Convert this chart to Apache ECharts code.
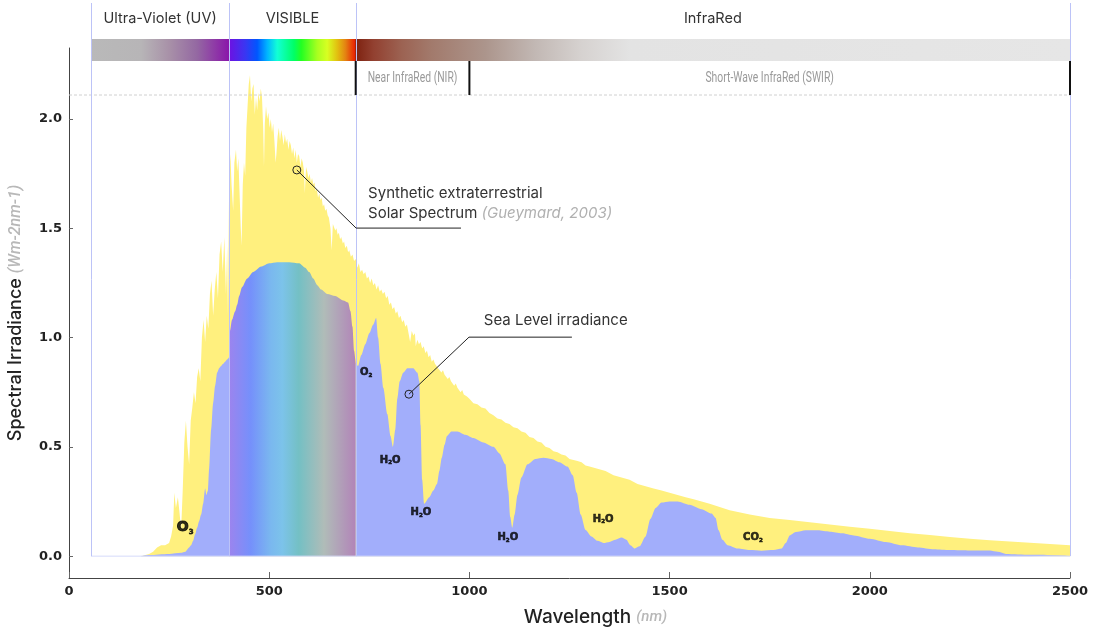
<!DOCTYPE html>
<html>
<head>
<meta charset="utf-8">
<script src="https://cdn.jsdelivr.net/npm/echarts@6/dist/echarts.min.js"></script>
<style>
  html, body { margin: 0; padding: 0; background: #ffffff; }
  #chart { width: 1095px; height: 633px; }
</style>
</head>
<body>
<div id="chart"></div>
<script>
// ---- Data -------------------------------------------------------------
// Synthetic extraterrestrial solar spectrum [wavelength nm, W m-2 nm-1]
const extraterrestrial = [
  [180,0],[200,0.01],[210,0.02],[220,0.04],[230,0.05],[240,0.05],[250,0.06],[255,0.09],[260,0.14],
  [263,0.29],[267,0.22],[272,0.27],[276,0.2],[280,0.12],[284,0.3],[288,0.52],[292,0.62],[296,0.5],
  [300,0.42],[304,0.62],[308,0.68],[312,0.75],[316,0.7],[320,0.82],[324,0.86],[328,0.8],[332,1.0],
  [336,1.08],[340,0.98],[344,1.1],[348,1.04],[352,1.2],[356,1.26],[360,1.1],[364,1.22],[368,1.3],
  [372,1.18],[376,1.38],[380,1.44],[384,1.3],[388,1.46],[392,1.2],[395,1.42],[397,1.1],
  [400,1.72],[403,1.84],[406,1.7],[410,1.58],[413,1.8],[417,1.86],[420,1.76],[423,1.82],[426,1.66],
  [429,1.5],[431,1.42],[434,1.7],[437,1.8],[440,1.74],[443,1.96],[446,2.06],[449,2.16],[452,2.2],
  [455,2.08],[458,2.14],[461,2.16],[464,2.02],[467,2.1],[470,2.04],[473,2.12],[476,2.08],[479,2.14],
  [482,2.1],[485,1.96],[487,1.78],[489,1.98],[492,2.06],[495,2.0],[498,2.03],[501,1.96],[504,2.0],
  [507,1.94],[510,1.98],[513,1.9],[516,1.8],[518,1.84],[521,1.92],[524,1.96],[527,1.9],[530,1.95],
  [533,1.92],[536,1.88],[539,1.93],[542,1.89],[545,1.91],[548,1.86],[551,1.9],[554,1.88],[557,1.84],
  [560,1.87],[563,1.82],[566,1.86],[569,1.8],[572,1.84],[575,1.83],[578,1.78],[581,1.82],[584,1.8],
  [587,1.76],[589,1.66],[592,1.78],[595,1.76],[598,1.73],[601,1.75],[604,1.71],[607,1.73],[610,1.7],
  [613,1.71],[616,1.67],[619,1.68],[622,1.64],[625,1.66],[628,1.63],[631,1.64],[634,1.6],[637,1.61],
  [640,1.58],[643,1.59],[646,1.56],[649,1.55],[653,1.5],[656,1.4],[659,1.52],[662,1.52],[665,1.49],
  [668,1.5],[671,1.47],[674,1.48],[677,1.45],[680,1.46],[684,1.43],[687,1.44],[690,1.41],[694,1.42],
  [697,1.39],[700,1.4],[704,1.37],[708,1.38],[712,1.35],[716,1.36],[720,1.32],[724,1.34],[728,1.3],
  [732,1.31],[736,1.29],[740,1.3],[744,1.27],[748,1.28],[752,1.25],[756,1.27],[760,1.24],[764,1.25],
  [768,1.22],[772,1.24],[776,1.21],[780,1.22],[784,1.2],[788,1.21],[792,1.18],[796,1.19],[800,1.15],
  [804,1.16],[808,1.13],[812,1.14],[816,1.11],[820,1.12],[824,1.09],[828,1.1],[832,1.07],[836,1.08],
  [840,1.05],[844,1.06],[848,1.02],[852,0.98],[856,1.03],[860,1.01],[864,1.02],[866,0.96],[870,0.99],
  [874,0.97],[878,0.98],[882,0.95],[886,0.96],[890,0.93],[894,0.94],[898,0.91],[902,0.92],[906,0.89],
  [910,0.9],[914,0.88],[918,0.88],[922,0.86],[926,0.86],[930,0.84],[934,0.85],[938,0.83],[942,0.83],
  [946,0.81],[950,0.82],[954,0.8],[958,0.8],[962,0.78],[966,0.79],[970,0.77],[974,0.77],[978,0.75],
  [982,0.76],[986,0.74],[990,0.74],[994,0.73],[998,0.73],[1000,0.72],[1010,0.7],[1020,0.695],
  [1030,0.68],[1040,0.675],[1050,0.655],[1060,0.645],[1070,0.63],[1080,0.625],[1090,0.61],[1100,0.605],
  [1110,0.59],[1120,0.585],[1130,0.57],[1140,0.565],[1150,0.545],[1160,0.54],[1170,0.525],[1180,0.52],
  [1190,0.5],[1200,0.495],[1210,0.48],[1220,0.475],[1230,0.465],[1240,0.46],[1250,0.445],[1260,0.44],
  [1270,0.435],[1280,0.43],[1290,0.415],[1300,0.41],[1320,0.4],[1340,0.39],[1360,0.37],[1380,0.36],
  [1400,0.35],[1420,0.33],[1440,0.32],[1460,0.31],[1480,0.3],[1500,0.29],[1520,0.28],[1540,0.27],
  [1560,0.26],[1580,0.25],[1600,0.24],[1650,0.21],[1700,0.19],[1750,0.175],[1800,0.165],[1850,0.155],
  [1900,0.145],[1950,0.135],[2000,0.125],[2050,0.115],[2100,0.105],[2150,0.097],[2200,0.088],
  [2250,0.08],[2300,0.073],[2350,0.067],[2400,0.061],[2450,0.055],[2500,0.05]
];

// Sea level irradiance, split into UV / visible / infrared parts
const seaLevelUV = [
  [180,0],[200,0.005],[250,0.01],[280,0.015],[290,0.02],[300,0.04],[305,0.05],[310,0.07],[315,0.1],
  [320,0.13],[325,0.16],[330,0.19],[335,0.24],[340,0.31],[343,0.28],[347,0.3],[350,0.4],[355,0.58],
  [360,0.7],[365,0.78],[370,0.84],[375,0.86],[380,0.87],[385,0.88],[390,0.89],[395,0.9],[400,0.91]
];
const seaLevelVisible = [
  [400,0.91],[402,1.03],[407,1.08],[415,1.12],[420,1.15],[425,1.19],[432,1.23],[445,1.27],[460,1.3],
  [480,1.325],[500,1.34],[520,1.345],[550,1.345],[575,1.34],[590,1.32],[600,1.3],[610,1.27],[620,1.24],
  [630,1.22],[645,1.2],[665,1.19],[685,1.17],[697,1.16],[703,1.12],[708,1.05],[712,0.94],[716,0.88]
];
const seaLevelIR = [
  [716,0.88],[722,0.87],[730,0.92],[740,0.97],[750,1.02],[760,1.06],[767,1.09],[772,1.0],[778,0.88],
  [785,0.77],[795,0.65],[803,0.55],[809,0.5],[815,0.58],[820,0.72],[826,0.8],[835,0.84],[845,0.86],
  [860,0.86],[870,0.84],[875,0.8],[878,0.6],[882,0.35],[887,0.24],[900,0.27],[910,0.3],[919,0.33],
  [925,0.39],[931,0.45],[938,0.51],[944,0.55],[955,0.57],[970,0.57],[990,0.555],[1010,0.54],[1035,0.52],
  [1060,0.5],[1075,0.47],[1090,0.42],[1097,0.3],[1102,0.18],[1107,0.13],[1113,0.19],[1120,0.28],
  [1130,0.36],[1145,0.42],[1165,0.445],[1185,0.45],[1205,0.445],[1225,0.43],[1245,0.41],[1258,0.37],
  [1268,0.29],[1278,0.19],[1290,0.12],[1305,0.09],[1320,0.07],[1335,0.06],[1350,0.065],[1365,0.075],
  [1380,0.085],[1392,0.075],[1402,0.05],[1413,0.035],[1425,0.045],[1440,0.09],[1452,0.17],[1465,0.22],
  [1480,0.245],[1500,0.25],[1520,0.25],[1550,0.235],[1580,0.215],[1605,0.195],[1615,0.175],[1622,0.12],
  [1632,0.075],[1645,0.05],[1670,0.035],[1700,0.028],[1730,0.025],[1760,0.028],[1780,0.035],[1790,0.06],
  [1800,0.095],[1815,0.11],[1840,0.118],[1870,0.118],[1900,0.112],[1930,0.105],[1960,0.095],[2000,0.08],
  [2040,0.065],[2080,0.05],[2120,0.04],[2160,0.032],[2200,0.028],[2250,0.026],[2300,0.026],[2320,0.02],
  [2340,0.01],[2400,0.006],[2500,0.004]
];

// Absorption band labels
const moleculeNames = ['O3', 'O2', 'H2O', 'H2O', 'H2O', 'H2O', 'CO2'];
const moleculeAt = [[290,0.13],[742,0.84],[802,0.44],[879,0.2],[1096,0.087],[1334,0.17],[1708,0.087]];

// Spectral regions
const regionEdges = [55, 400, 716, 2500];
const regionNames = ['Ultra-Violet (UV)', 'VISIBLE', 'InfraRed'];
const subRegionEdges = [716, 1000, 2500];
const subRegionNames = ['Near InfraRed (NIR)', 'Short-Wave InfraRed (SWIR)'];

const yTicks = [0, 0.5, 1.0, 1.5, 2.0];

// ---- Styling ----------------------------------------------------------
const YELLOW = '#fff07e';
const BLUE = '#a2aefb';
const GUIDE = '#bcc3f7';
const TXT = 'Inter, Roboto, "Noto Sans", sans-serif';
const HEAVY = '"DejaVu Sans", sans-serif';

// colour of the spectrum strip along wavelength
const bandStops = [
  [55,'#b9b9b9'],[180,'#b7b5b7'],[250,'#a891a8'],[320,'#9468a2'],[399,'#8a16aa'],[400.5,'#6c12e2'],
  [440,'#3a36f2'],[470,'#0056ff'],[495,'#00b4ff'],[520,'#12ffd6'],[562,'#00ff66'],[580,'#22ff22'],
  [620,'#a8ff20'],[645,'#d8ff22'],[670,'#e2c010'],[690,'#e48412'],[714,'#e82204'],[716.5,'#7e2210'],
  [760,'#924030'],[830,'#9c6252'],[905,'#a27a6c'],[1040,'#ac958c'],[1165,'#c2b8b4'],[1280,'#d6d2d0'],
  [1400,'#e3e3e3'],[2500,'#e6e6e6']
];
const visibleFill = new echarts.graphic.LinearGradient(0, 0, 1, 0, [
  { offset: 0.0, color: '#9c84ee' },
  { offset: 0.17, color: '#7590fb' },
  { offset: 0.33, color: '#7ab8ef' },
  { offset: 0.42, color: '#7cc3ea' },
  { offset: 0.55, color: '#74c0c4' },
  { offset: 0.75, color: '#b0bcb8' },
  { offset: 1.0, color: '#b284b8' }
]);

function sub(name) { return '{m|' + name.replace(/(\d)/g, '}{s|$1}{m|') + '}'; }

const chart = echarts.init(document.getElementById('chart'), null, { renderer: 'canvas' });

const areaSeries = (data, color, smooth) => ({
  type: 'line', data, showSymbol: false, symbol: 'none', smooth,
  smoothMonotone: 'x', lineStyle: { width: 0, opacity: 0 },
  areaStyle: { color, opacity: 1 }, silent: true, animation: false
});

const heavy = (size) => ({
  fontSize: size, fontWeight: 900, color: '#000', fontFamily: HEAVY,
  textBorderColor: '#000', textBorderWidth: size > 10 ? 1 : 0.6
});

const option = {
  animation: false,
  backgroundColor: '#ffffff',
  grid: { left: 69, right: 25, top: 48, bottom: 55, containLabel: false, outerBoundsMode: 'none' },
  xAxis: {
    type: 'value', min: 0, max: 2500, interval: 500,
    name: 'Wavelength {u|(nm)}', nameLocation: 'middle', nameGap: 30,
    nameTextStyle: {
      fontSize: 19, fontWeight: 500, color: '#222', fontFamily: TXT, padding: [0, 0, 0, 52],
      rich: { u: { fontSize: 15, color: '#b8b8b8', fontStyle: 'italic', fontFamily: 'Roboto, sans-serif' } }
    },
    axisLine: { onZero: false, lineStyle: { color: '#444', width: 1 } },
    axisTick: { inside: true, length: 6, lineStyle: { color: '#666' } },
    axisLabel: { margin: 7, fontSize: 13, fontWeight: 'bold', color: '#222', fontFamily: HEAVY,
      formatter: v => String(v) },
    splitLine: { show: false }
  },
  yAxis: {
    type: 'value', min: -0.1, max: 2.325,
    name: 'Spectral Irradiance {u|(Wm-2nm-1)}', nameLocation: 'middle', nameGap: 44,
    nameTextStyle: {
      fontSize: 18, fontWeight: 500, color: '#222', fontFamily: TXT,
      rich: { u: { fontSize: 16, color: '#b8b8b8', fontStyle: 'italic', fontFamily: 'Roboto, sans-serif' } }
    },
    axisLine: { onZero: false, lineStyle: { color: '#444', width: 1 } },
    axisTick: { inside: true, length: 4, customValues: yTicks, lineStyle: { color: '#666' } },
    axisLabel: {
      margin: 7, customValues: yTicks, fontSize: 13, fontWeight: 'bold', color: '#222',
      fontFamily: HEAVY, formatter: v => v.toFixed(1)
    },
    splitLine: { show: false }
  },
  series: [
    areaSeries(extraterrestrial, YELLOW, false),
    areaSeries(seaLevelUV, BLUE, 0.25),
    areaSeries(seaLevelVisible, visibleFill, 0.25),
    areaSeries(seaLevelIR, BLUE, 0.25),
    {
      type: 'scatter', symbol: 'circle', symbolSize: 1, silent: true, animation: false, z: 5,
      itemStyle: { color: 'rgba(0,0,0,0)' },
      data: moleculeAt.map((p, i) => ({
        value: p,
        label: {
          formatter: sub(moleculeNames[i]),
          rich: {
            m: heavy(i === 0 ? 14 : 10),
            s: Object.assign(heavy(i === 0 ? 7 : 5.5), {
              verticalAlign: 'bottom', padding: [i === 0 ? 8 : 6, 0, 0, 0] })
          }
        }
      })),
      label: { show: true, position: 'inside', color: '#000' }
    }
  ]
};
chart.setOption(option);

// ---- Header strip, guides and annotations -----------------------------
const X = w => chart.convertToPixel({ gridIndex: 0 }, [w, 0])[0];
const Y = v => chart.convertToPixel({ gridIndex: 0 }, [0, v])[1];
const P = (w, v) => chart.convertToPixel({ gridIndex: 0 }, [w, v]);

const rowTitle = 19, bandTop = 39, bandH = 22, subRowY = 78, guideY = 95, lineTop = 3;
const g = [];

// spectrum strip
const w0 = bandStops[0][0], w1 = bandStops[bandStops.length - 1][0];
g.push({
  type: 'rect', z: 100,
  shape: { x: X(w0), y: bandTop, width: X(w1) - X(w0), height: bandH },
  style: { fill: new echarts.graphic.LinearGradient(0, 0, 1, 0,
    bandStops.map(([w, c]) => ({ offset: (w - w0) / (w1 - w0), color: c }))) }
});

// dashed guide under the header
g.push({ type: 'line', z: 99, shape: { x1: X(0), y1: guideY, x2: X(2500), y2: guideY },
  style: { stroke: '#d0d0d0', lineWidth: 1, lineDash: [3, 2] } });

// zero baseline
g.push({ type: 'line', z: 101, shape: { x1: X(regionEdges[0]), y1: Y(0), x2: X(2500), y2: Y(0) },
  style: { stroke: '#d6dbfb', lineWidth: 1 } });

// region boundaries
regionEdges.forEach(w => {
  const x = Math.round(X(w)) + 0.5;
  g.push({ type: 'line', z: 102, shape: { x1: x, y1: lineTop, x2: x, y2: Y(0) },
    style: { stroke: GUIDE, lineWidth: 1 } });
});

// region titles
regionNames.forEach((t, i) => {
  g.push({ type: 'text', z: 103, x: (X(regionEdges[i]) + X(regionEdges[i + 1])) / 2, y: rowTitle,
    style: { text: t, fontSize: 14.5, fontFamily: TXT, fill: '#333', align: 'center', verticalAlign: 'middle' } });
});

// sub-region markers and names
subRegionEdges.forEach(w => {
  const x = X(w);
  g.push({ type: 'line', z: 103, shape: { x1: x, y1: bandTop + bandH, x2: x, y2: guideY },
    style: { stroke: '#111', lineWidth: 2 } });
});
subRegionNames.forEach((t, i) => {
  g.push({ type: 'text', z: 103, x: (X(subRegionEdges[i]) + X(subRegionEdges[i + 1])) / 2, y: subRowY,
    scaleX: 0.74,
    style: { text: t, fontSize: 14, fontFamily: 'Roboto, sans-serif', fill: '#9a9a9a', align: 'center', verticalAlign: 'middle' } });
});

// callouts with leader lines
function callout(at, elbow, endW, lines, textAt) {
  const c = P(at[0], at[1]), e = P(elbow[0], elbow[1]), f = P(endW, elbow[1]);
  g.push({ type: 'polyline', z: 104, shape: { points: [c, e, f] }, style: { stroke: '#222', lineWidth: 1, fill: null } });
  g.push({ type: 'circle', z: 105, shape: { cx: c[0], cy: c[1], r: 4 }, style: { stroke: '#222', lineWidth: 1, fill: 'rgba(0,0,0,0)' } });
  lines.forEach((t, i) => {
    const p = P(textAt[0], textAt[1][i]);
    g.push({ type: 'text', z: 105, x: p[0], y: p[1],
      style: { text: t, fontSize: 15, fontFamily: TXT, fill: '#333', align: 'left', verticalAlign: 'middle',
        rich: { c: { fontSize: 15, fontFamily: TXT, fill: '#b0b0b0', fontStyle: 'italic' } } } });
  });
}
callout([569, 1.767], [717, 1.501], 979,
  ['Synthetic extraterrestrial', 'Solar Spectrum {c|(Gueymard, 2003)}'], [747, [1.661, 1.57]]);
callout([849, 0.741], [999, 1.002], 1256, ['Sea Level irradiance'], [1036, [1.08]]);

chart.setOption({ graphic: g });
</script>
</body>
</html>
